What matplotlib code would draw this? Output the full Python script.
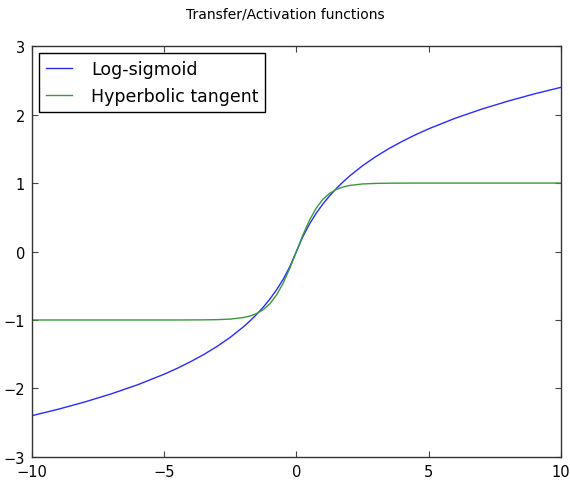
import numpy as np
import matplotlib
matplotlib.use("Agg")
import matplotlib.pyplot as plt

# Values (positive half; curves are odd-symmetric)
x_pos = [0.0, 0.25, 0.5, 0.75, 1.0, 1.25, 1.5, 1.75, 2.0, 2.5, 3.0, 3.5, 4.0,
         4.5, 5.0, 6.0, 7.0, 8.0, 9.0, 10.0]
logsig_pos = [0.0, 0.223, 0.405, 0.560, 0.693, 0.811, 0.916, 1.012, 1.099,
              1.253, 1.386, 1.504, 1.609, 1.705, 1.792, 1.946, 2.079, 2.197,
              2.303, 2.398]
tanh_pos = [0.0, 0.245, 0.462, 0.635, 0.762, 0.848, 0.905, 0.941, 0.964,
            0.987, 0.995, 0.998, 0.999, 1.0, 1.0, 1.0, 1.0, 1.0, 1.0, 1.0]

labels = ["Log-sigmoid", "Hyperbolic tangent"]
title = "Transfer/Activation functions"
xticks = [-10, -5, 0, 5, 10]
yticks = [-3, -2, -1, 0, 1, 2, 3]

x = np.concatenate([-np.array(x_pos[:0:-1]), np.array(x_pos)])
y1 = np.concatenate([-np.array(logsig_pos[:0:-1]), np.array(logsig_pos)])
y2 = np.concatenate([-np.array(tanh_pos[:0:-1]), np.array(tanh_pos)])

plt.rcParams['font.family'] = ['DejaVu Sans']
plt.rcParams['xtick.direction'] = 'in'
plt.rcParams['ytick.direction'] = 'in'

fig = plt.figure(figsize=(5.70, 4.81), dpi=100)
ax = fig.add_axes([0.056, 0.048, 0.928, 0.854])
ax.plot(x, y1, color='#2a2aff', lw=1.0, label=labels[0])
ax.plot(x, y2, color='#3a9a3a', lw=1.0, label=labels[1])
ax.set_xlim(-10, 10)
ax.set_ylim(-3, 3)
ax.set_xticks(xticks)
ax.set_yticks(yticks)
ax.set_xticklabels(["\u2212" + str(-t) if t < 0 else str(t) for t in xticks])
ax.set_yticklabels(["\u2212" + str(-t) if t < 0 else str(t) for t in yticks])
ax.tick_params(labelsize=10.5, top=True, right=True, length=4, pad=5,
               color='#444444')
for s in ax.spines.values():
    s.set_linewidth(1.0)
    s.set_color('#333333')
leg = ax.legend(loc='upper left', fontsize=12.5, fancybox=False, framealpha=1,
                edgecolor='black', borderaxespad=0.4, handlelength=1.5,
                handletextpad=1.1)
leg.get_frame().set_linewidth(1.0)
fig.suptitle(title, fontsize=10, y=0.985)
fig.savefig("out.png", dpi=100)
